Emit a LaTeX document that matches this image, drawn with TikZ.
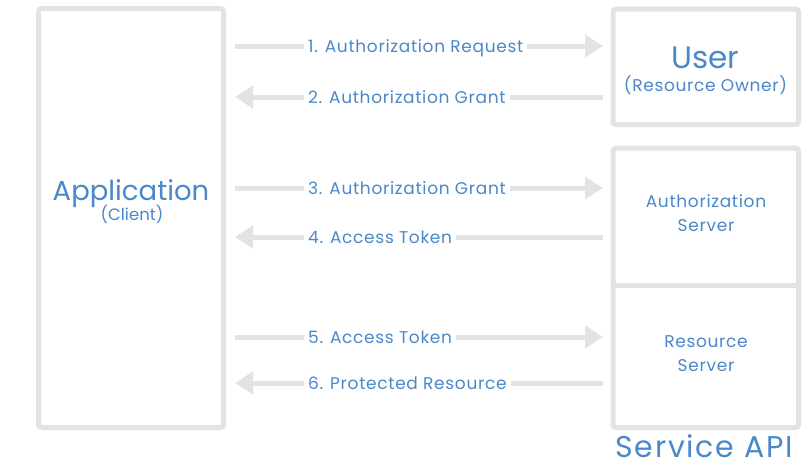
\documentclass[tikz,border=0pt]{standalone}
\usepackage{fontspec}
\setmainfont{Poppins}
\newfontfamily\spaced[LetterSpace=4]{Poppins}
\newfontfamily\wider[LetterSpace=6]{Poppins}
\usetikzlibrary{arrows.meta}
\definecolor{txtblue}{HTML}{4A88C9}
\definecolor{boxgray}{HTML}{E3E3E3}
\tikzset{
  box/.style={draw=boxgray, line width=5pt, rounded corners=3pt, fill=white, inner sep=0pt},
  arr/.style={draw=boxgray, line width=5pt, -{Triangle[length=18pt,width=22pt]}},
  lbl/.style={fill=white, text=txtblue, font=\spaced\fontsize{17}{19}\selectfont, inner xsep=4pt, inner ysep=2pt, anchor=base west},
  big/.style={text=txtblue, font=\fontsize{27.5}{32}\selectfont, inner sep=0pt, anchor=base},
  small/.style={text=txtblue, font=\spaced\fontsize{17}{19}\selectfont, inner sep=0pt, anchor=base},
}
\begin{document}
\begin{tikzpicture}[x=1pt,y=-1pt]
\useasboundingbox[fill=white] (0,0) rectangle (809,467);
% boxes
\node[box, minimum width=185pt, minimum height=419pt] (app) at (131,218) {};
\node[box, minimum width=185.5pt, minimum height=115.5pt] (user) at (705.75,66.75) {};
\node[box, minimum width=185.5pt, minimum height=279.5pt] (svc) at (705.75,287.75) {};
\draw[boxgray, line width=5pt] (svc.west |- 0,285) coordinate (dl) -- (svc.east |- 0,285) coordinate (dr);
% texts
\node[big] (apptxt) at (131,200) {Application};
\node[small, font=\fontsize{16.5}{18}\selectfont] (client) at (132,220) {(Client)};
\node[big, font=\fontsize{31}{34}\selectfont] (usertxt) at (705.5,68) {User};
\node[small] (owner) at (705.5,91) {(Resource Owner)};
\node[small] (as1) at (706,207) {Authorization};
\node[small] (as2) at (706,231) {Server};
\node[small] (rs1) at (706,347) {Resource};
\node[small] (rs2) at (706,371) {Server};
\node[big, font=\wider\fontsize{30}{32}\selectfont] (svcapi) at (704,457.5) {Service API};
% arrow end points
\foreach \n/\y in {1/46,2/97,3/188,4/237,5/337,6/383}{
  \coordinate (L\n) at (235,\y);
  \coordinate (R\n) at (603,\y);
}
\draw[arr] (L1) -- (R1);
\draw[arr] (R2) -- (L2);
\draw[arr] (L3) -- (R3);
\draw[arr] (R4) -- (L4);
\draw[arr] (L5) -- (R5);
\draw[arr] (R6) -- (L6);
\node[lbl] (t1) at (304,52) {1. Authorization Request};
\node[lbl] (t2) at (304,103) {2. Authorization Grant};
\node[lbl] (t3) at (304,194) {3. Authorization Grant};
\node[lbl] (t4) at (304,243) {4. Access Token};
\node[lbl] (t5) at (304,343) {5. Access Token};
\node[lbl] (t6) at (304,389) {6. Protected Resource};
\end{tikzpicture}
\end{document}
